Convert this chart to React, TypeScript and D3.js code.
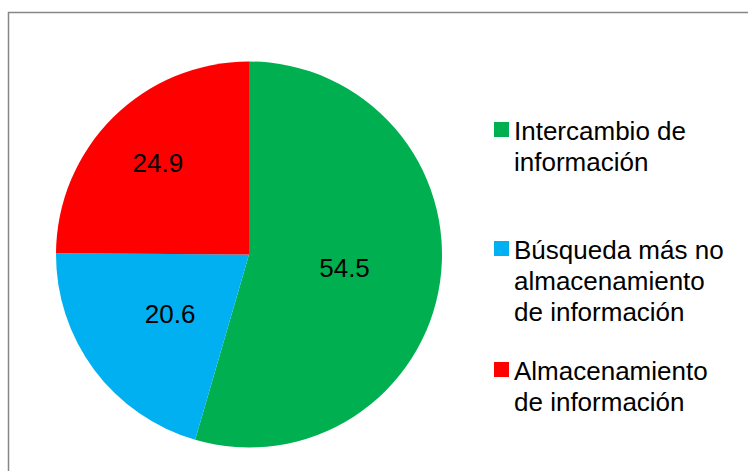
import React, { useEffect, useRef } from "react";
import * as d3 from "d3";

// series, clockwise from 12 o'clock
const categories = [
  "Intercambio de información",
  "Búsqueda más no almacenamiento de información",
  "Almacenamiento de información",
];
const values = [54.5, 20.6, 24.9];
const colors = ["#00B050", "#00B0F0", "#FF0000"];

// legend text, split the way the original wraps it
const legendLines = [
  ["Intercambio de", "información"],
  ["Búsqueda más no", "almacenamiento", "de información"],
  ["Almacenamiento", "de información"],
];

export default function App() {
  const ref = useRef<SVGSVGElement | null>(null);

  useEffect(() => {
    const W = 748;
    const H = 471;
    const svg = d3.select(ref.current);
    svg.selectAll("*").remove();

    // chart frame (right and bottom sides run off the picture)
    svg
      .append("rect")
      .attr("x", 8.5)
      .attr("y", 12.5)
      .attr("width", W)
      .attr("height", H)
      .attr("fill", "#fff")
      .attr("stroke", "#868686")
      .attr("stroke-width", 1.5);

    const cx = 249;
    const cy = 254.5;
    const r = 193;

    const pie = d3
      .pie<number>()
      .sort(null)
      .value((d) => d);
    const arcs = pie(values);
    const arc = d3.arc<d3.PieArcDatum<number>>().innerRadius(0).outerRadius(r);

    const g = svg.append("g").attr("transform", `translate(${cx},${cy})`);

    g.selectAll("path")
      .data(arcs)
      .enter()
      .append("path")
      .attr("d", arc)
      .attr("fill", (d, i) => colors[i]);

    // data labels - red one sits further out, like the original
    const labelR = [0.5, 0.51, 0.67];
    g.selectAll("text.lbl")
      .data(arcs)
      .enter()
      .append("text")
      .attr("class", "lbl")
      .attr("x", (d, i) => {
        const a = (d.startAngle + d.endAngle) / 2;
        return Math.sin(a) * r * labelR[i];
      })
      .attr("y", (d, i) => {
        const a = (d.startAngle + d.endAngle) / 2;
        return -Math.cos(a) * r * labelR[i];
      })
      .attr("dy", "0.36em")
      .attr("text-anchor", "middle")
      .style("font-family", "'Liberation Sans', Arial, sans-serif")
      .style("font-size", "26px")
      .attr("fill", "#000")
      .text((d) => d.data.toFixed(1));

    // legend
    const legendTop = [140, 259, 380];
    const lineH = 31;
    const lg = svg.append("g");
    categories.forEach((c, i) => {
      const item = lg.append("g").attr("aria-label", c);
      item
        .append("rect")
        .attr("x", 494)
        .attr("y", legendTop[i] - 18)
        .attr("width", 15)
        .attr("height", 15)
        .attr("fill", colors[i]);
      legendLines[i].forEach((line, j) => {
        item
          .append("text")
          .attr("x", 514)
          .attr("y", legendTop[i] + j * lineH)
          .style("font-family", "'Liberation Sans', Arial, sans-serif")
          .style("font-size", "26px")
          .attr("fill", "#000")
          .text(line);
      });
    });
  }, []);

  return (
    <svg
      ref={ref}
      width={748}
      height={471}
      style={{ position: "absolute", left: 0, top: 0, background: "#fff" }}
    />
  );
}
